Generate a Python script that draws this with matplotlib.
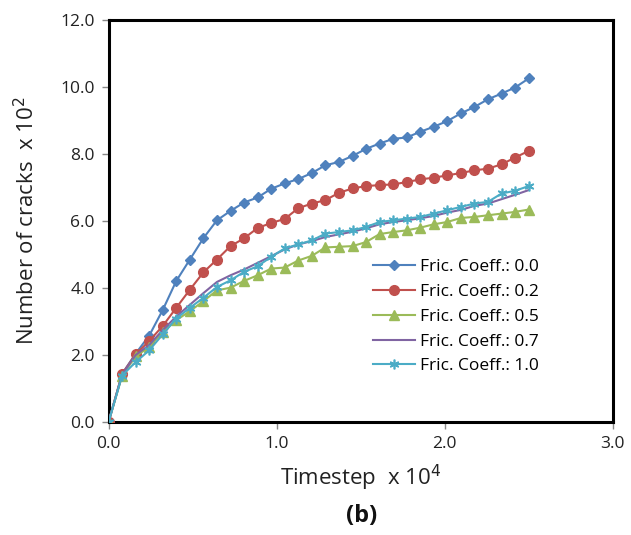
import matplotlib
matplotlib.use("Agg")
import matplotlib.pyplot as plt

plt.rcParams['font.family'] = ['Open Sans', 'DejaVu Sans']

timestep = [0.000, 0.081, 0.161, 0.242, 0.323, 0.403, 0.484, 0.565, 0.645, 0.726,
            0.806, 0.887, 0.968, 1.048, 1.129, 1.210, 1.290, 1.371, 1.452, 1.532,
            1.613, 1.694, 1.774, 1.855, 1.935, 2.016, 2.097, 2.177, 2.258, 2.339,
            2.419, 2.500]

cracks_00 = [0.00, 1.44, 2.04, 2.58, 3.35, 4.21, 4.85, 5.49, 6.02, 6.30,
             6.55, 6.70, 6.96, 7.12, 7.25, 7.43, 7.66, 7.76, 7.94, 8.15,
             8.31, 8.45, 8.49, 8.66, 8.81, 8.98, 9.21, 9.40, 9.63, 9.80,
             9.98, 10.25]
cracks_02 = [0.00, 1.44, 2.02, 2.42, 2.87, 3.41, 3.95, 4.47, 4.85, 5.25,
             5.48, 5.79, 5.94, 6.06, 6.38, 6.52, 6.62, 6.84, 6.97, 7.04,
             7.07, 7.09, 7.16, 7.24, 7.29, 7.36, 7.43, 7.51, 7.56, 7.69,
             7.89, 8.09]
cracks_05 = [0.00, 1.39, 1.96, 2.24, 2.69, 3.04, 3.31, 3.61, 3.93, 4.01,
             4.21, 4.38, 4.58, 4.61, 4.82, 4.96, 5.21, 5.23, 5.25, 5.37,
             5.61, 5.67, 5.72, 5.80, 5.90, 5.97, 6.09, 6.12, 6.17, 6.22,
             6.27, 6.34]
cracks_07 = [0.00, 1.42, 2.00, 2.30, 2.75, 3.15, 3.50, 3.85, 4.18, 4.38,
             4.55, 4.75, 4.95, 5.15, 5.30, 5.40, 5.52, 5.60, 5.68, 5.78,
             5.90, 5.97, 6.02, 6.08, 6.15, 6.25, 6.33, 6.45, 6.52, 6.65,
             6.78, 6.92]
cracks_10 = [0.00, 1.39, 1.79, 2.14, 2.62, 3.09, 3.41, 3.71, 4.03, 4.23,
             4.48, 4.65, 4.93, 5.18, 5.30, 5.42, 5.62, 5.67, 5.72, 5.82,
             5.97, 6.02, 6.07, 6.12, 6.22, 6.32, 6.42, 6.52, 6.57, 6.82,
             6.90, 7.04]

labels = ["Fric. Coeff.: 0.0", "Fric. Coeff.: 0.2", "Fric. Coeff.: 0.5",
          "Fric. Coeff.: 0.7", "Fric. Coeff.: 1.0"]
xticks = [0.0, 1.0, 2.0, 3.0]
yticks = [0.0, 2.0, 4.0, 6.0, 8.0, 10.0, 12.0]

fig = plt.figure(figsize=(6.31, 5.35), dpi=100)
ax = fig.add_axes([0.172, 0.211, 0.799, 0.752])

ax.plot(timestep, cracks_00, color='#4F81BD', lw=1.5, marker='D', ms=5.5,
        label=labels[0], zorder=3)
ax.plot(timestep, cracks_02, color='#C0504D', lw=1.5, marker='o', ms=7,
        label=labels[1], zorder=3)
ax.plot(timestep, cracks_05, color='#9BBB59', lw=1.5, marker='^', ms=7,
        label=labels[2], zorder=3)
ax.plot(timestep, cracks_07, color='#8064A2', lw=1.5,
        label=labels[3], zorder=3)
ax.plot(timestep, cracks_10, color='#4BACC6', lw=1.5, marker=(6, 2, 0), ms=7,
        mew=1.2, label=labels[4], zorder=3)

ax.set_xlim(0, 3.0)
ax.set_ylim(0, 12.0)
ax.set_xticks(xticks)
ax.set_yticks(yticks)
ax.set_xticklabels([f"{t:.1f}" for t in xticks])
ax.set_yticklabels([f"{t:.1f}" for t in yticks])
ax.tick_params(direction='out', length=5, width=1, color='#888888',
               labelsize=12.5, labelcolor='#222222', pad=5)
for sp in ax.spines.values():
    sp.set_linewidth(2.2)
    sp.set_color('black')

ax.set_xlabel("Timestep  x 10$^4$", fontsize=16, labelpad=8, color='#222222')
ax.set_ylabel("Number of cracks  x 10$^2$", fontsize=16, labelpad=15, color='#222222')

fig.text(0.573, 0.035, "(b)", fontsize=17, fontweight='bold', ha='center',
         va='center', color='#111111')

leg = ax.legend(loc='center', bbox_to_anchor=(0.7227, 0.408),
                bbox_transform=fig.transFigure, frameon=False,
                fontsize=12.5, handlelength=2.4, handletextpad=0.3,
                labelspacing=0.5, borderpad=0.2)

fig.savefig("out.png", dpi=100)
